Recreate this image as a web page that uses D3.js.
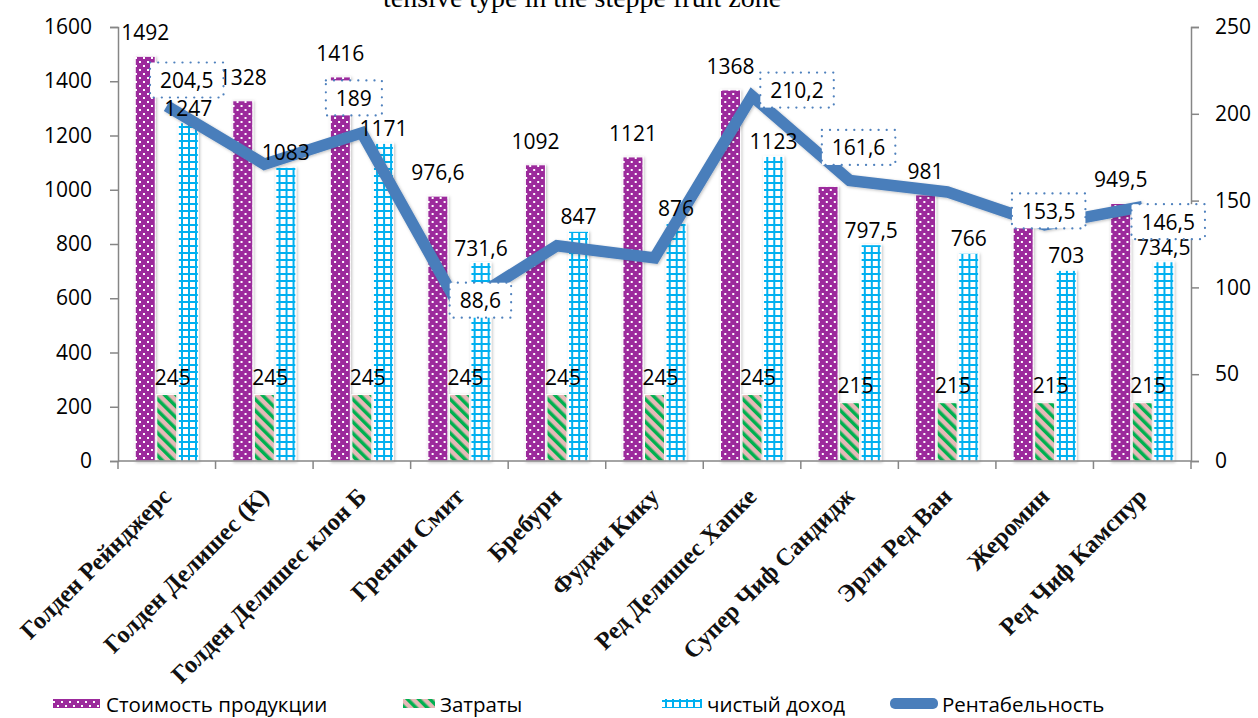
<!DOCTYPE html>
<html>
<head>
<meta charset="utf-8">
<script src="https://cdn.jsdelivr.net/npm/d3@7/dist/d3.min.js"></script>
<style>
  body { margin: 0; background: #fff; }
  svg { display: block; }
  .num { font-family: "Open Sans", sans-serif; font-size: 21px; fill: #000; }
  .cat { font-family: "Liberation Serif", "Times New Roman", serif; font-size: 24.5px; font-weight: bold; fill: #111; }
</style>
</head>
<body>
<svg id="chart" width="1258" height="718"></svg>
<script>
/* chart data */
var categories = ["Голден Рейнджерс", "Голден Делишес (К)", "Голден Делишес клон Б", "Грении Смит",
  "Бребурн", "Фуджи Кику", "Ред Делишес Хапке", "Супер Чиф Сандидж", "Эрли Ред Ван", "Жеромин", "Ред Чиф Камспур"];
var productValue = [1492, 1328, 1416, 976.6, 1092, 1121, 1368, 1012.5, 981, 918, 949.5];
var costs = [245, 245, 245, 245, 245, 245, 245, 215, 215, 215, 215];
var netIncome = [1247, 1083, 1171, 731.6, 847, 876, 1123, 797.5, 766, 703, 734.5];
var profitability = [204.5, 171, 189, 88.6, 124, 117, 210.2, 161.6, 155, 136, 146.5];
var profitabilityLabels = ["204,5", null, "189", "88,6", null, null, "210,2", "161,6", null, "153,5", "146,5"];
var productLabelShown = [1, 1, 1, 1, 1, 1, 1, 0, 1, 0, 1];
var leftTicks = [0, 200, 400, 600, 800, 1000, 1200, 1400, 1600];
var rightTicks = [0, 50, 100, 150, 200, 250];
var seriesNames = ["Стоимость продукции", "Затраты", "чистый доход", "Рентабельность"];

/* hand placed label boxes of the line (offset from point) */
var boxOffsets = [[20, -26], null, [-8, -35], [21, -7], null, null, [45, -6], [9, -33], null, [4, -14], [26, 15]];

var svg = d3.select("#chart");
var plotLeft = 118, plotRight = 1191, plotTop = 27, plotBottom = 461;

var x0 = d3.scaleBand().domain(categories).range([plotLeft, plotRight]).padding(0);
var x1 = d3.scaleBand().domain([0, 1, 2]).range([0, x0.bandwidth()]).paddingInner(0.07).paddingOuter(0.8);
var yL = d3.scaleLinear().domain([0, 1600]).range([plotBottom, plotTop]);
var yR = d3.scaleLinear().domain([0, 250]).range([plotBottom, plotTop]);

var fmt = function(v) { return String(v).replace(".", ","); };

/* patterns */
var defs = svg.append("defs");
var pDots = defs.append("pattern").attr("id", "dots").attr("patternUnits", "userSpaceOnUse")
  .attr("width", 8).attr("height", 8);
pDots.append("rect").attr("width", 8).attr("height", 8).attr("fill", "#9c2a9c");
pDots.append("rect").attr("x", 1).attr("y", 1).attr("width", 2).attr("height", 2).attr("fill", "#fff");
pDots.append("rect").attr("x", 5).attr("y", 5).attr("width", 2).attr("height", 2).attr("fill", "#fff");

var pStripe = defs.append("pattern").attr("id", "stripes").attr("patternUnits", "userSpaceOnUse")
  .attr("width", 8).attr("height", 8).attr("patternTransform", "rotate(-45)");
pStripe.append("rect").attr("width", 8).attr("height", 8).attr("fill", "#e6b9b8");
pStripe.append("rect").attr("width", 3.5).attr("height", 8).attr("fill", "#00b050");

var pGrid = defs.append("pattern").attr("id", "grid").attr("patternUnits", "userSpaceOnUse")
  .attr("width", 7).attr("height", 7);
pGrid.append("rect").attr("width", 7).attr("height", 7).attr("fill", "#fff");
pGrid.append("rect").attr("width", 2).attr("height", 7).attr("fill", "#00b0f0");
pGrid.append("rect").attr("width", 7).attr("height", 2).attr("fill", "#00b0f0");

var shadow = defs.append("filter").attr("id", "shadow").attr("x", "-30%").attr("y", "-10%")
  .attr("width", "160%").attr("height", "120%");
shadow.append("feDropShadow").attr("dx", 1).attr("dy", 1).attr("stdDeviation", 1.5)
  .attr("flood-color", "#000").attr("flood-opacity", 0.25);

/* title fragment cut off at top */
svg.append("text").attr("x", 383).attr("y", 7)
  .style("font-family", "Liberation Serif, serif").style("font-size", "28px")
  .text("tensive type in the steppe fruit zone");

/* bars */
var series = [productValue, costs, netIncome];
var fills = ["url(#dots)", "url(#stripes)", "url(#grid)"];
var groups = svg.append("g").selectAll("g").data(categories).join("g")
  .attr("transform", function(d) { return "translate(" + x0(d) + ",0)"; });

groups.selectAll("rect").data(function(d, i) {
    return series.map(function(s, k) { return { k: k, v: s[i] }; });
  }).join("rect")
  .attr("x", function(d) { return x1(d.k); })
  .attr("width", x1.bandwidth())
  .attr("y", function(d) { return yL(d.v); })
  .attr("height", function(d) { return yL(0) - yL(d.v); })
  .attr("fill", function(d) { return fills[d.k]; })
  .attr("stroke", "#fff").attr("stroke-width", 1)
  .attr("filter", "url(#shadow)");

/* axes */
var axisColor = "#868686";
var gl = svg.append("g").attr("transform", "translate(" + plotLeft + ",0)")
  .call(d3.axisLeft(yL).tickValues(leftTicks).tickFormat(d3.format("d")).tickSize(8).tickPadding(18));
var gr = svg.append("g").attr("transform", "translate(" + plotRight + ",0)")
  .call(d3.axisRight(yR).tickValues(rightTicks).tickFormat(d3.format("d")).tickSize(8).tickPadding(16));
[gl, gr].forEach(function(g) {
  g.select(".domain").attr("stroke", axisColor).attr("stroke-width", 1.5);
  g.selectAll(".tick line").attr("stroke", axisColor).attr("stroke-width", 1.5);
  g.selectAll(".tick text").attr("class", "num").attr("fill", "#000")
    .style("font-family", "Open Sans, sans-serif").style("font-size", "21px");
});

var gb = svg.append("g");
gb.append("line").attr("x1", plotLeft).attr("x2", plotRight).attr("y1", plotBottom).attr("y2", plotBottom)
  .attr("stroke", axisColor).attr("stroke-width", 1.5);
gb.selectAll(".bt").data(categories.concat(["_end"])).join("line")
  .attr("x1", function(d, i) { return plotLeft + i * x0.step(); })
  .attr("x2", function(d, i) { return plotLeft + i * x0.step(); })
  .attr("y1", plotBottom).attr("y2", plotBottom + 8)
  .attr("stroke", axisColor).attr("stroke-width", 1.5);

gb.selectAll(".cat").data(categories).join("text")
  .attr("class", "cat")
  .attr("text-anchor", "end")
  .attr("transform", function(d) {
    return "translate(" + (x0(d) + x0.bandwidth() / 2 + 6) + "," + 498 + ") rotate(-45)";
  })
  .text(function(d) { return d; });

/* line */
var line = d3.line()
  .x(function(d, i) { return x0(categories[i]) + x0.bandwidth() / 2; })
  .y(function(d) { return yR(d); });
svg.append("path").datum(profitability)
  .attr("d", line)
  .attr("fill", "none").attr("stroke", "#4a7ebb").attr("stroke-width", 11.5)
  .attr("stroke-linejoin", "miter").attr("filter", "url(#shadow)");

/* bar labels */
var lab = svg.append("g");
categories.forEach(function(c, i) {
  if (productLabelShown[i]) {
    lab.append("text").attr("class", "num").attr("text-anchor", "middle")
      .attr("x", x0(c) + x1(0) + x1.bandwidth() / 2).attr("y", yL(productValue[i]) - 16)
      .text(fmt(productValue[i]));
  }
  lab.append("text").attr("class", "num").attr("text-anchor", "middle")
    .attr("x", x0(c) + x1(1) + x1.bandwidth() / 2 + 6).attr("y", yL(costs[i]) - 10)
    .text(fmt(costs[i]));
  lab.append("text").attr("class", "num").attr("text-anchor", "middle")
    .attr("x", x0(c) + x1(2) + x1.bandwidth() / 2).attr("y", yL(netIncome[i]) - 7)
    .text(fmt(netIncome[i]));
});

/* line label boxes */
var boxes = svg.append("g");
profitabilityLabels.forEach(function(t, i) {
  if (!t) return;
  var px = x0(categories[i]) + x0.bandwidth() / 2 + boxOffsets[i][0];
  var py = yR(profitability[i]) + boxOffsets[i][1];
  var g = boxes.append("g").attr("transform", "translate(" + px + "," + py + ")");
  var r = g.append("rect");
  var tx = g.append("text").attr("class", "num").attr("text-anchor", "middle").attr("y", 8).text(t);
  var w = tx.node().getBBox().width + 20, h = 35;
  r.attr("x", -w / 2).attr("y", -h / 2).attr("width", w).attr("height", h)
    .attr("fill", "#fff").attr("stroke", "#4f81bd").attr("stroke-width", 2.2)
    .attr("stroke-dasharray", "0.1 8").attr("stroke-linecap", "round");
});

/* legend */
var leg = svg.append("g");
var legItems = [
  { x: 53, w: 47, fill: "url(#dots)", tx: 106 },
  { x: 403, w: 32, fill: "url(#stripes)", tx: 440 },
  { x: 662, w: 40, fill: "url(#grid)", tx: 707 },
  { x: 890, w: 48, fill: null, tx: 942 }
];
legItems.forEach(function(d, i) {
  if (d.fill) {
    leg.append("rect").attr("x", d.x).attr("y", 699).attr("width", d.w).attr("height", 9).attr("fill", d.fill);
  } else {
    leg.append("rect").attr("x", d.x).attr("y", 698).attr("width", d.w).attr("height", 11)
      .attr("rx", 5).attr("fill", "#4a7ebb");
  }
  leg.append("text").attr("class", "num").attr("x", d.tx).attr("y", 712).style("font-size", "20.5px").text(seriesNames[i]);
});
</script>
</body>
</html>
